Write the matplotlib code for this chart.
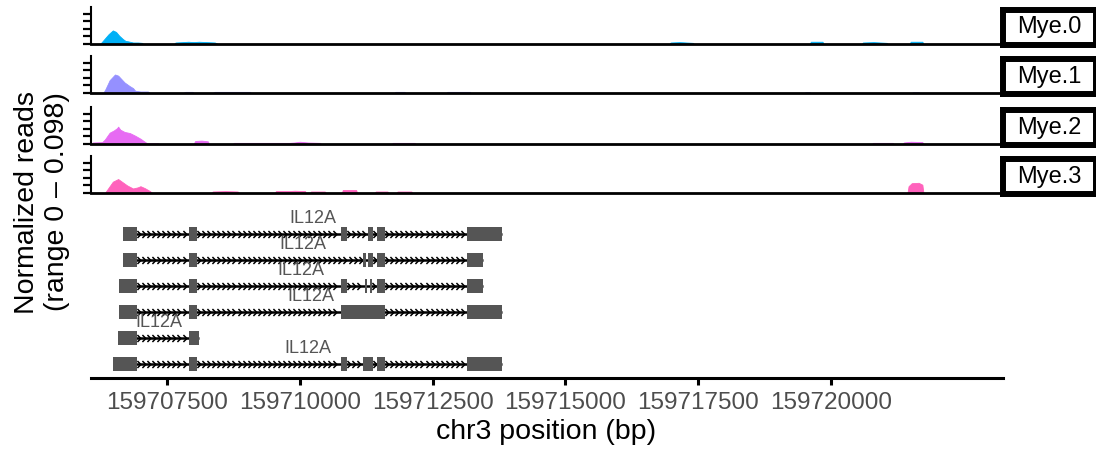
import numpy as np
import matplotlib
matplotlib.use('Agg')
import matplotlib.pyplot as plt
from matplotlib.path import Path

plt.rcParams['font.family'] = ['Liberation Sans', 'DejaVu Sans']

# region shown (hg19, chr3) and axis ticks
BASE = 159700000
region = (159706069, 159723238)
xticks = [159707500, 159710000, 159712500, 159715000, 159717500, 159720000]
y_max = 0.098
y_ticks = [0, 0.02, 0.04, 0.06, 0.08]

groups = ['Mye.0', 'Mye.1', 'Mye.2', 'Mye.3']
colors = ['#00B0F6', '#9590FF', '#E76BF3', '#FF62BC']

# coverage, positions as offsets from BASE, values = normalized reads
mye0_pos = [6240, 6290, 6400, 6480, 6540, 6600, 6670, 6720, 6770, 6830, 6860, 6950, 7030, 7050,
            7630, 7660, 7800, 7900, 8000, 8100, 8250, 8400, 8460,
            16960, 16980, 17150, 17400, 17420,
            19600, 19620, 19840, 19860,
            20580, 20600, 20800, 21050, 21070,
            21480, 21500, 21720, 21740]
mye0_val = [0, 0.008, 0.026, 0.036, 0.032, 0.022, 0.013, 0.008, 0.007, 0.005, 0.004, 0.004, 0.003, 0,
            0, 0.004, 0.005, 0.006, 0.005, 0.006, 0.005, 0.004, 0,
            0, 0.004, 0.005, 0.003, 0,
            0, 0.006, 0.006, 0,
            0, 0.004, 0.005, 0.003, 0,
            0, 0.006, 0.006, 0]

mye1_pos = [6300, 6340, 6420, 6520, 6580, 6620, 6700, 6800, 6860, 6900, 7000, 7140, 7180,
            7800, 7850, 7980, 8000,
            8360, 8400, 9060, 9080,
            11780, 11800, 11970, 11990,
            12760, 12780, 13200, 13220,
            19500, 19520, 19600, 19620,
            21520, 21540, 21650, 21670]
mye1_val = [0, 0.010, 0.034, 0.049, 0.046, 0.040, 0.028, 0.018, 0.013, 0.006, 0.004, 0.004, 0,
            0, 0.003, 0.003, 0,
            0, 0.003, 0.003, 0,
            0, 0.003, 0.003, 0,
            0, 0.003, 0.003, 0,
            0, 0.002, 0.002, 0,
            0, 0.002, 0.002, 0]

mye2_pos = [6080, 6100, 6280, 6330, 6420, 6500, 6560, 6580, 6620, 6700, 6800, 6900, 7000, 7080,
            7124, 7330, 7350,
            8000, 8030, 8150, 8270, 8290,
            8740, 8760, 9800, 9900, 10000, 10150, 10380, 10400,
            11730, 11750, 12160, 12180,
            20770, 20790, 21160, 21180,
            21350, 21370, 21500, 21720, 21740]
mye2_val = [0, 0.004, 0.005, 0.012, 0.030, 0.036, 0.042, 0.046, 0.038, 0.032, 0.029, 0.022, 0.014, 0.006,
            0.002, 0.002, 0,
            0, 0.008, 0.009, 0.007, 0,
            0, 0.003, 0.003, 0.004, 0.006, 0.004, 0.003, 0,
            0, 0.003, 0.003, 0,
            0, 0.003, 0.003, 0,
            0, 0.004, 0.006, 0.005, 0]

mye3_pos = [6330, 6380, 6480, 6580, 6650, 6750, 6860, 6950, 7000, 7080, 7180, 7220,
            8340, 8360, 8600, 8830, 8850,
            9530, 9550, 9800, 9900, 10100, 10110,
            10190, 10210, 10470, 10490,
            10790, 10810, 11060, 11080,
            11410, 11430, 11650, 11670,
            11820, 11840, 12100, 12120,
            21440, 21460, 21520, 21650, 21720, 21740]
mye3_val = [0, 0.010, 0.030, 0.037, 0.030, 0.020, 0.012, 0.015, 0.018, 0.013, 0.005, 0,
            0, 0.004, 0.005, 0.004, 0,
            0, 0.005, 0.005, 0.006, 0.005, 0,
            0, 0.004, 0.004, 0,
            0, 0.008, 0.008, 0,
            0, 0.004, 0.004, 0,
            0, 0.004, 0.004, 0,
            0, 0.018, 0.026, 0.027, 0.022, 0]

cov_pos = [mye0_pos, mye1_pos, mye2_pos, mye3_pos]
cov_val = [mye0_val, mye1_val, mye2_val, mye3_val]

# IL12A transcripts, exons as (start, end) offsets from BASE
gene_name = 'IL12A'
transcripts = [
    [(6672, 6935), (7914, 8065), (10776, 10889), (11284, 11378), (11453, 11604), (13148, 13806)],
    [(6672, 6935), (7914, 8065), (11190, 11240), (11280, 11378), (11453, 11604), (13148, 13449)],
    [(6596, 6935), (7914, 8065), (10776, 10889), (11227, 11265), (11320, 11360), (11453, 11604), (13148, 13449)],
    [(6596, 6935), (7914, 8065), (10776, 11604), (13148, 13806)],
    [(6578, 6935), (7914, 8102)],
    [(6483, 6935), (7914, 8065), (10776, 10889), (11190, 11378), (11453, 11604), (13148, 13806)],
]

W, H = 1096, 453
fig = plt.figure(figsize=(W / 100, H / 100), dpi=100)


def px_axes(x0, y0, x1, y1):
    return fig.add_axes([x0 / W, 1 - y1 / H, (x1 - x0) / W, (y1 - y0) / H])


panel_tops = [7, 56, 107, 156]
for i, g in enumerate(groups):
    top = panel_tops[i]
    ax = px_axes(91, top, 1003, top + 37)
    pos = np.array(cov_pos[i]) + BASE
    ax.fill_between(pos, cov_val[i], 0, color=colors[i], lw=0.6, edgecolor=colors[i])
    ax.set_xlim(region)
    ax.set_ylim(0, y_max)
    ax.set_yticks(y_ticks)
    ax.set_yticklabels([])
    ax.set_xticks([])
    ax.patch.set_alpha(0)
    for s in ['top', 'right']:
        ax.spines[s].set_visible(False)
    ax.spines['bottom'].set_linewidth(2)
    ax.spines['left'].set_linewidth(1.5)
    ax.tick_params(axis='y', length=5.5, width=1.6, color='black')

    # facet strip
    sx = px_axes(1003, top + 3, 1096, top + 38)
    sx.set_xticks([])
    sx.set_yticks([])
    for s in sx.spines.values():
        s.set_linewidth(4.3)
    sx.text(0.5, 0.5, g, ha='center', va='center', fontsize=17, transform=sx.transAxes)

# gene track
gx = px_axes(91, 205, 1003, 378)
gx.set_xlim(region)
gx.set_ylim(6.54, -0.115)
chev = Path([(-0.6, 1), (0.4, 0), (-0.6, -1)], [Path.MOVETO, Path.LINETO, Path.LINETO])
for r, exons in enumerate(transcripts, start=1):
    ex = [(s + BASE, e + BASE) for s, e in exons]
    start, end = ex[0][0], ex[-1][1]
    gx.plot([start, end], [r, r], color='black', lw=1.8, zorder=1, solid_capstyle='butt')
    for (s0, e0), (s1, e1) in zip(ex[:-1], ex[1:]):
        if s1 - e0 < 60:
            continue
        mx = np.arange(e0 + 40, s1 - 20, 95)
        gx.plot(mx, np.full(len(mx), r), ls='none', marker=chev, markersize=5,
                mec='black', mfc='none', mew=1.1, zorder=1)
    gx.broken_barh([(s, e - s) for s, e in ex], (r - 0.27, 0.54),
                   facecolors='#555555', edgecolor='none', zorder=2)
    gx.text((start + end) / 2, r - 0.6, gene_name, ha='center', va='center',
            fontsize=13, color='#555555', zorder=3)

gx.patch.set_alpha(0)
for s in ['top', 'right', 'left']:
    gx.spines[s].set_visible(False)
gx.spines['bottom'].set_linewidth(2.2)
gx.set_yticks([])
gx.set_xticks(xticks)
gx.set_xticklabels([str(t) for t in xticks])
gx.tick_params(axis='x', length=5, width=2.2, pad=5, labelsize=17.5, labelcolor='#4D4D4D')

fig.text(546 / W, 1 - 432 / H, 'chr3 position (bp)', ha='center', va='center', fontsize=20.5)
fig.text(42 / W, 1 - 202 / H, 'Normalized reads\n(range 0 \u2013 0.098)', ha='center', va='center',
         rotation=90, fontsize=20.5, multialignment='center')

fig.savefig('out.png', dpi=100)
